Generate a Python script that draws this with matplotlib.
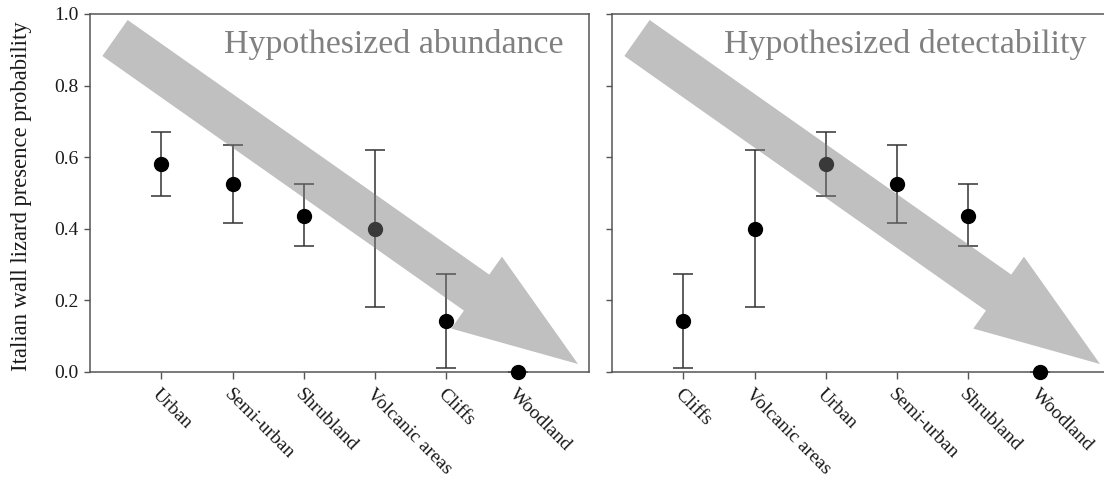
"""
Italian wall lizard presence probability by habitat, shown in two orderings
(hypothesized abundance vs. hypothesized detectability).
"""

import numpy as np
import matplotlib.pyplot as plt
from matplotlib.patches import Polygon
from matplotlib.transforms import Affine2D

# habitat estimates (mean, lower CI, upper CI)
habitats = ["Urban", "Semi-urban", "Shrubland", "Volcanic areas", "Cliffs", "Woodland"]
prob = [0.582, 0.524, 0.437, 0.400, 0.143, 0.0]
lower = [0.493, 0.415, 0.351, 0.182, 0.011, 0.0]
upper = [0.669, 0.633, 0.525, 0.619, 0.275, 0.0]

order_abundance = ["Urban", "Semi-urban", "Shrubland", "Volcanic areas", "Cliffs", "Woodland"]
order_detect = ["Cliffs", "Volcanic areas", "Urban", "Semi-urban", "Shrubland", "Woodland"]

titles = ["Hypothesized abundance", "Hypothesized detectability"]
ylabel = "Italian wall lizard presence probability"
yticks = [0.0, 0.2, 0.4, 0.6, 0.8, 1.0]

plt.rcParams["font.family"] = ["Liberation Serif", "DejaVu Serif"]

W, H = 1104, 480
fig = plt.figure(figsize=(W / 100, H / 100), dpi=100)

ax_w, ax_h = 499, 358  # axes size in pixels
ax_left = fig.add_axes([90 / W, (H - 372) / H, ax_w / W, ax_h / H])
ax_right = fig.add_axes([612 / W, (H - 372) / H, ax_w / W, ax_h / H])

spine_col = "#555555"
point_col = "black"
bar_col = "#333333"
text_col = "#1a1a1a"


def arrow_vertices(tail, tip, shaft_w, head_w, head_l):
    """Polygon of a straight block arrow (pixel units)."""
    tail = np.asarray(tail, float)
    tip = np.asarray(tip, float)
    d = tip - tail
    u = d / np.hypot(*d)
    n = np.array([-u[1], u[0]])
    base = tip - head_l * u
    return np.array([
        tail + n * shaft_w / 2,
        base + n * shaft_w / 2,
        base + n * head_w / 2,
        tip,
        base - n * head_w / 2,
        base - n * shaft_w / 2,
        tail - n * shaft_w / 2,
    ])


for ax, order, title in zip([ax_left, ax_right], [order_abundance, order_detect], titles):
    idx = [habitats.index(h) for h in order]
    x = np.arange(1, len(order) + 1)
    y = np.array([prob[i] for i in idx])
    lo = np.array([lower[i] for i in idx])
    hi = np.array([upper[i] for i in idx])

    ax.errorbar(x, y, yerr=[y - lo, hi - y], fmt="none", ecolor=bar_col,
                elinewidth=1.1, capsize=7.5, capthick=1.1, zorder=2, clip_on=False)
    ax.plot(x, y, "o", color=point_col, markersize=10, zorder=3, clip_on=False)

    ax.set_xlim(0, 7)
    ax.set_ylim(0, 1)
    ax.set_yticks(yticks)
    ax.set_xticks(x)
    ax.set_xticklabels(order, rotation=-45, ha="left", va="top",
                       rotation_mode="anchor", fontsize=14, color=text_col)

    for s in ax.spines.values():
        s.set_color(spine_col)
        s.set_linewidth(1.1)
    ax.tick_params(direction="out", length=4, width=1, color=spine_col, pad=4)
    ax.tick_params(axis="x", length=5, pad=5)

    # big translucent arrow over the points
    verts = arrow_vertices((25, 334), (488, 8), 44, 88, 124)
    tr = Affine2D().scale(1 / ax_w, 1 / ax_h) + ax.transAxes
    ax.add_patch(Polygon(verts, closed=True, transform=tr, facecolor="#7a7a7a",
                         edgecolor="none", alpha=0.475, zorder=4))

    ax.text(474 / ax_w, 1 - 39 / ax_h, title, transform=ax.transAxes,
            ha="right", va="baseline", fontsize=24.4, color="#808080", zorder=5)

ax_left.set_yticklabels([f"{t:.1f}" for t in yticks], fontsize=14, color=text_col)
ax_right.set_yticklabels([])
ax_left.set_ylabel(ylabel, fontsize=16.3, color=text_col)
ax_left.yaxis.set_label_coords(-58 / ax_w, 0.49)

fig.savefig("out.png", dpi=100)
